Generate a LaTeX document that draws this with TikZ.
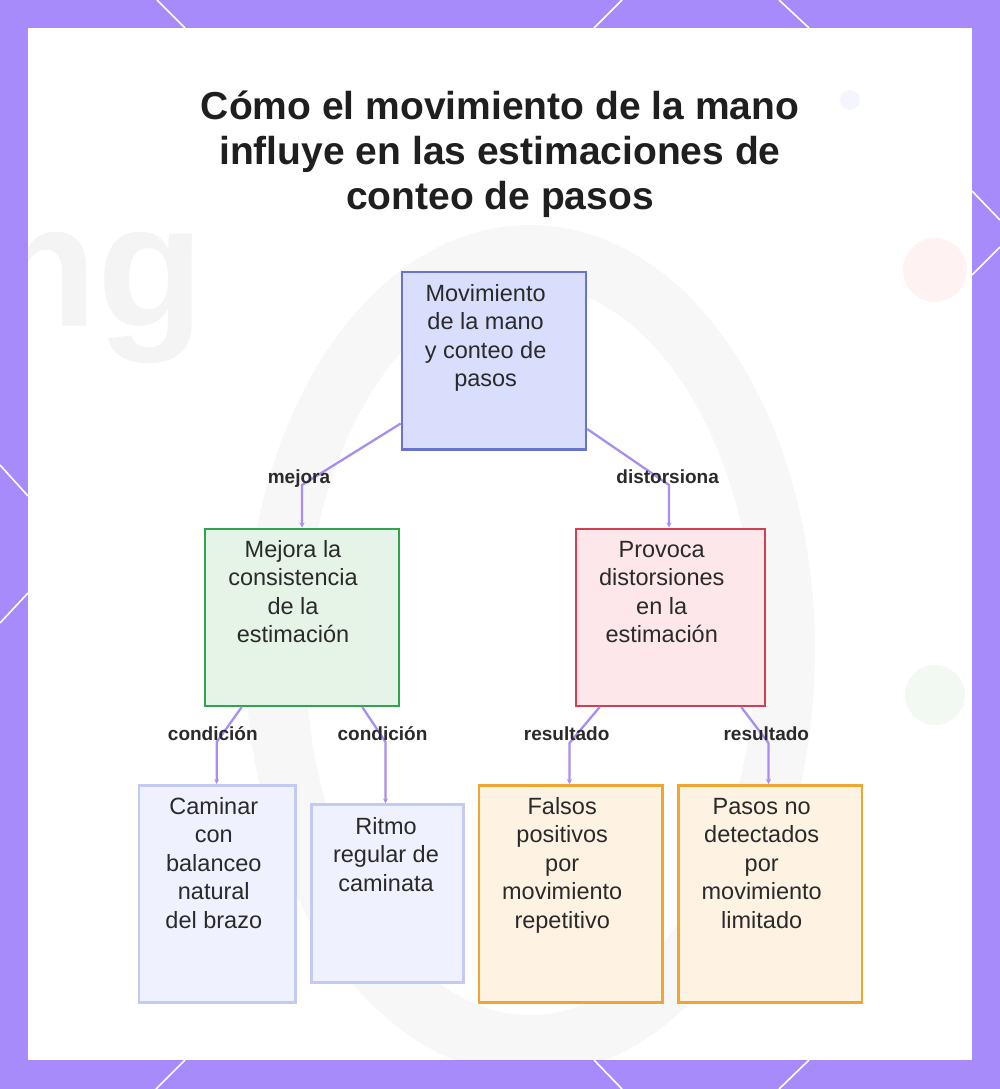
\documentclass[tikz,border=0pt]{standalone}
\usepackage{fontspec}
\setmainfont{Liberation Sans}
\usetikzlibrary{arrows.meta}
\definecolor{frame}{HTML}{A78BFA}
\definecolor{conncol}{HTML}{A98EF2}
\definecolor{txt}{HTML}{2A2A2A}
\definecolor{rootfill}{HTML}{D9DEFC}
\definecolor{rootdraw}{HTML}{6872D0}
\definecolor{greenfill}{HTML}{E6F4E7}
\definecolor{greendraw}{HTML}{2EA44F}
\definecolor{redfill}{HTML}{FDE7EB}
\definecolor{reddraw}{HTML}{D33F51}
\definecolor{lightfill}{HTML}{EFF2FE}
\definecolor{lightdraw}{HTML}{C3CBF3}
\definecolor{orfill}{HTML}{FEF3E3}
\definecolor{ordraw}{HTML}{EFA630}
\tikzset{
  boxbase/.style={rectangle, line width=2.5pt, anchor=north west, inner sep=0pt},
  bodytext/.style={anchor=base, align=center, inner sep=0pt, text=txt,
    font=\fontsize{23.5}{28.5}\selectfont},
  edgelabel/.style={anchor=base, inner sep=0pt, text=txt,
    font=\bfseries\fontsize{19}{22}\selectfont},
  conn/.style={draw=conncol, line width=2.3pt, -{Stealth[length=5pt,width=5pt]}},
  deco/.style={white, line width=1.6pt}
}
\begin{document}
\begin{tikzpicture}[x=1pt,y=-1pt]
\useasboundingbox (0,0) rectangle (1000,1089);
\fill[frame] (0,0) rectangle (1000,1089);
\fill[white] (28,28) rectangle (972,1060);
% frame decorations
\draw[deco] (157,0) -- (185,28);
\draw[deco] (622,0) -- (594,28);
\draw[deco] (779,0) -- (809,28);
\draw[deco] (185,1060) -- (156,1089);
\draw[deco] (594,1060) -- (622,1089);
\draw[deco] (809,1060) -- (779,1089);
\draw[deco] (0,465) -- (28,496);
\draw[deco] (28,593) -- (0,623);
\draw[deco] (972,191) -- (1000,220);
\draw[deco] (1000,247) -- (972,275);
% faint background
\begin{scope}
\clip (28,28) rectangle (972,1060);
\draw[black, opacity=0.03, line width=60pt] (530,650) ellipse [x radius=255, y radius=395];
\node[anchor=base west, inner sep=0pt, text=black, opacity=0.045, font=\bfseries\fontsize{175}{175}\selectfont] (bgtext) at (-10,326) {ng};
\fill[red, opacity=0.05] (935,270) circle [radius=32];
\fill[green!60!black, opacity=0.05] (935,695) circle [radius=30];
\fill[blue, opacity=0.04] (850,100) circle [radius=10];
\end{scope}
% title
\node[anchor=base, align=center, inner sep=0pt, text=black!88,
  font=\bfseries\fontsize{39}{45}\selectfont] (title) at (500,209)
  {Cómo el movimiento de la mano\\influye en las estimaciones de\\conteo de pasos};
% boxes
\node[boxbase, fill=rootfill, draw=rootdraw, minimum width=184pt, minimum height=177.3pt] (root) at (400.7,270.7) {};
\node[boxbase, fill=greenfill, draw=greendraw, minimum width=194pt, minimum height=177pt] (green) at (203.8,527.5) {};
\node[boxbase, fill=redfill, draw=reddraw, minimum width=189pt, minimum height=177pt] (red) at (574.7,527.5) {};
\node[boxbase, fill=lightfill, draw=lightdraw, minimum width=156.4pt, minimum height=217pt] (b1) at (137.6,784) {};
\node[boxbase, fill=lightfill, draw=lightdraw, minimum width=151.6pt, minimum height=177.6pt] (b2) at (310.4,803.4) {};
\node[boxbase, fill=orfill, draw=ordraw, minimum width=183.7pt, minimum height=217pt] (b3) at (477.7,784) {};
\node[boxbase, fill=orfill, draw=ordraw, minimum width=183.6pt, minimum height=217pt] (b4) at (677,784) {};
% texts (anchor = baseline of last line)
\node[bodytext] (rootT) at (485.6,386.5) {Movimiento\\de la mano\\y conteo de\\pasos};
\node[bodytext] (greenT) at (293,642.5) {Mejora la\\consistencia\\de la\\estimación};
\node[bodytext] (redT) at (661.7,642.5) {Provoca\\distorsiones\\en la\\estimación};
\node[bodytext] (b1T) at (213.8,928.3) {Caminar\\con\\balanceo\\natural\\del brazo};
\node[bodytext] (b2T) at (386,891) {Ritmo\\regular de\\caminata};
\node[bodytext] (b3T) at (562.2,928.3) {Falsos\\positivos\\por\\movimiento\\repetitivo};
\node[bodytext] (b4T) at (761.7,928.3) {Pasos no\\detectados\\por\\movimiento\\limitado};
% connectors
\coordinate (k1) at (302,485);
\coordinate (k2) at (669,485);
\coordinate (k3) at (216.7,742);
\coordinate (k4) at (385.5,742);
\coordinate (k5) at (569.5,743);
\coordinate (k6) at (768.5,743);
\draw[conn] ([yshift=27pt]root.south west) -- (k1) -- (k1 |- green.north);
\draw[conn] ([yshift=21.5pt]root.south east) -- (k2) -- (k2 |- red.north);
\draw[conn] ([xshift=38pt]green.south west) -- (k3) -- (k3 |- b1.north);
\draw[conn] ([xshift=-38pt]green.south east) -- (k4) -- (k4 |- b2.north);
\draw[conn] ([xshift=25pt]red.south west) -- (k5) -- (k5 |- b3.north);
\draw[conn] ([xshift=-25pt]red.south east) -- (k6) -- (k6 |- b4.north);
% edge labels
\node[edgelabel] (l1) at (299,483) {mejora};
\node[edgelabel] (l2) at (667.6,483) {distorsiona};
\node[edgelabel] (l3) at (212.8,740) {condición};
\node[edgelabel] (l4) at (382.5,740) {condición};
\node[edgelabel] (l5) at (566.7,740) {resultado};
\node[edgelabel] (l6) at (766.3,740) {resultado};
\end{tikzpicture}
\end{document}
